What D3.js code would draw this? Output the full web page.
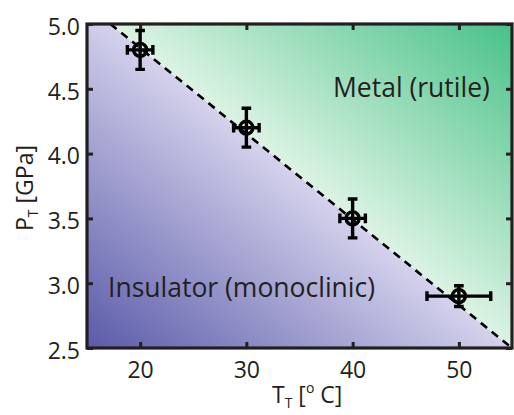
<!DOCTYPE html>
<html>
<head>
<meta charset="utf-8">
<script src="https://cdn.jsdelivr.net/npm/d3@7"></script>
<style>
  body { margin: 0; background: #fff; }
  text { font-family: "Open Sans", "Noto Sans", sans-serif; fill: #231f20; }
</style>
</head>
<body>
<svg id="chart" width="514" height="415"></svg>
<script>
// data
const temps = [20, 30, 40, 50];
const pressures = [4.8, 4.2, 3.5, 2.9];
const tempErr = [1.2, 1.2, 1.2, 3];
const pressErr = [0.15, 0.15, 0.15, 0.08];
const boundaryT = [17.2, 55];
const boundaryP = [5.0, 2.5];
const xTicks = [20, 30, 40, 50];
const yTicks = [2.5, 3.0, 3.5, 4.0, 4.5, 5.0];

const svg = d3.select("#chart");
const x = d3.scaleLinear().domain([15, 55]).range([87, 512]);
const y = d3.scaleLinear().domain([2.5, 5.0]).range([348, 24]);

const defs = svg.append("defs");

// line endpoints in pixels
const p0 = [x(boundaryT[0]), y(boundaryP[0])];
const p1 = [x(boundaryT[1]), y(boundaryP[1])];
// foot of perpendicular from a point onto the boundary
function foot(pt) {
  const dx = p1[0] - p0[0], dy = p1[1] - p0[1];
  const t = ((pt[0] - p0[0]) * dx + (pt[1] - p0[1]) * dy) / (dx * dx + dy * dy);
  return [p0[0] + t * dx, p0[1] + t * dy];
}
const bl = [x(15), y(2.5)], tr = [x(55), y(5.0)];

function grad(id, from, to, c0, c1) {
  const g = defs.append("linearGradient").attr("id", id)
    .attr("gradientUnits", "userSpaceOnUse")
    .attr("x1", from[0]).attr("y1", from[1]).attr("x2", to[0]).attr("y2", to[1]);
  g.append("stop").attr("offset", 0).attr("stop-color", c0);
  g.append("stop").attr("offset", 1).attr("stop-color", c1);
}
grad("gIns", bl, foot(bl), "#5a5aa9", "#d4d2ec");
grad("gMet", foot(tr), tr, "#dcf3e4", "#48c187");

// regions
svg.append("path")
  .attr("d", `M${x(15)},${y(5)} L${p0[0]},${p0[1]} L${p1[0]},${p1[1]} L${x(15)},${y(2.5)} Z`)
  .attr("fill", "url(#gIns)");
svg.append("path")
  .attr("d", `M${p0[0]},${p0[1]} L${x(55)},${y(5)} L${p1[0]},${p1[1]} Z`)
  .attr("fill", "url(#gMet)");

// boundary
svg.append("line")
  .attr("x1", p0[0]).attr("y1", p0[1]).attr("x2", p1[0]).attr("y2", p1[1])
  .attr("stroke", "#000").attr("stroke-width", 2.6).attr("stroke-dasharray", "8,6");

// region labels
svg.append("text").attr("x", 333).attr("y", 97).attr("font-size", 26.5).text("Metal (rutile)");
svg.append("text").attr("x", 108).attr("y", 297).attr("font-size", 26.5).text("Insulator (monoclinic)");

// axes with inward ticks on all sides
const tickStyle = g => {
  g.select(".domain").remove();
  g.selectAll(".tick line").attr("stroke", "#231f20").attr("stroke-width", 3);
  g.selectAll(".tick text").attr("font-size", 23).attr("fill", "#231f20")
    .style("font-family", '"Open Sans", "Noto Sans", sans-serif');
};
svg.append("g").attr("transform", `translate(0,${y(2.5)})`)
  .call(d3.axisBottom(x).tickValues(xTicks).tickSize(-6).tickPadding(14).tickFormat(d3.format("d")))
  .call(tickStyle);
svg.append("g").attr("transform", `translate(0,${y(5)})`)
  .call(d3.axisTop(x).tickValues(xTicks).tickSize(-6).tickFormat(""))
  .call(tickStyle);
svg.append("g").attr("transform", `translate(${x(15)},0)`)
  .call(d3.axisLeft(y).tickValues(yTicks).tickSize(-6).tickPadding(7).tickFormat(d3.format(".1f")))
  .call(tickStyle)
  .call(g => g.selectAll(".tick text").attr("dy", "0.45em"));
svg.append("g").attr("transform", `translate(${x(55)},0)`)
  .call(d3.axisRight(y).tickValues(yTicks).tickSize(-6).tickFormat(""))
  .call(tickStyle);

// frame
svg.append("rect")
  .attr("x", x(15)).attr("y", y(5)).attr("width", x(55) - x(15)).attr("height", y(2.5) - y(5))
  .attr("fill", "none").attr("stroke", "#231f20").attr("stroke-width", 3.2);

// error bars + markers
const pts = temps.map((t, i) => ({ t, p: pressures[i], et: tempErr[i], ep: pressErr[i] }));
const eb = svg.append("g").attr("stroke", "#000").attr("stroke-width", 3.4).attr("fill", "none");
const cap = 4.8;
pts.forEach(d => {
  const cx = x(d.t), cy = y(d.p);
  const xl = x(d.t - d.et), xr = x(d.t + d.et), yt = y(d.p + d.ep), yb = y(d.p - d.ep);
  eb.append("path").attr("d",
    `M${xl},${cy}H${xr}M${xl},${cy - cap}V${cy + cap}M${xr},${cy - cap}V${cy + cap}` +
    `M${cx},${yt}V${yb}M${cx - cap},${yt}H${cx + cap}M${cx - cap},${yb}H${cx + cap}`);
  eb.append("circle").attr("cx", cx).attr("cy", cy).attr("r", 6.5);
});

// axis titles
const xt = svg.append("text").attr("x", 272).attr("y", 403).attr("font-size", 23);
xt.append("tspan").text("T");
xt.append("tspan").attr("font-size", 14).attr("dy", 5).text("T");
xt.append("tspan").attr("dy", -5).text(" [");
xt.append("tspan").attr("font-size", 14).attr("dy", -10).text("o");
xt.append("tspan").attr("dy", 10).text(" C]");

const yt = svg.append("text").attr("transform", "translate(33,188) rotate(-90)")
  .attr("text-anchor", "middle").attr("font-size", 23);
yt.append("tspan").text("P");
yt.append("tspan").attr("font-size", 14).attr("dy", 5).text("T");
yt.append("tspan").attr("dy", -5).text(" [GPa]");
</script>
</body>
</html>
